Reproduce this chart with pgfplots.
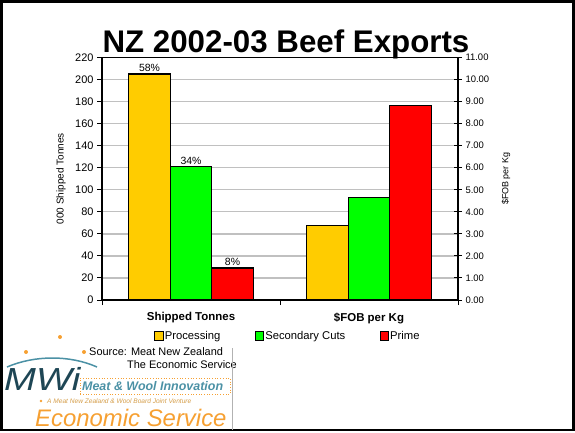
\documentclass[border=0pt]{standalone}
\usepackage{fontspec}
\setmainfont{Liberation Sans}
\usepackage{pgfplots}
\pgfplotsset{compat=1.18}
\definecolor{procC}{RGB}{255,204,0}
\definecolor{secC}{RGB}{0,255,0}
\definecolor{primeC}{RGB}{255,0,0}
\definecolor{gridC}{RGB}{192,192,192}
\definecolor{mwiTeal}{RGB}{30,70,85}
\definecolor{mwiBlue}{RGB}{75,145,165}
\definecolor{mwiOrange}{RGB}{246,160,50}
\begin{document}
\begin{tikzpicture}[x=1bp,y=1bp]
\useasboundingbox (0,0) rectangle (575,432);
\draw[line width=2.5bp] (1.3,1.8) rectangle (573.7,430.7);

\node[anchor=base, inner sep=0pt, font=\bfseries\fontsize{31.4}{34}\selectfont] at (286,380) {NZ 2002-03 Beef Exports};

\pgfplotsset{
  commonax/.style={
    at={(102bp,132bp)}, anchor=south west, scale only axis,
    width=356bp, height=242.5bp,
    xmin=-0.5, xmax=1.5,
    ybar=0pt, bar width=0.2333,
    /pgf/number format/assume math mode=true,
    axis line style={line width=1.3bp},
    every axis plot/.append style={draw=black, line width=1.2bp},
  }
}

\begin{axis}[commonax,
  ymin=0, ymax=220, ytick={0,20,...,220},
  ymajorgrids, grid style={gridC, line width=1.3bp},
  ytick pos=left, tick align=outside,
  tick style={black, line width=1bp},
  major tick length=5bp,
  yticklabel style={font=\fontsize{11}{13}\selectfont},
  xtick={-0.5,0.5,1.5}, xticklabels={,,}, xtick pos=bottom,
  extra x ticks={0,1},
  extra x tick labels={Shipped Tonnes,\$FOB per Kg},
  extra x tick style={major tick length=0pt,
    xticklabel style={font=\bfseries\fontsize{11.5}{13}\selectfont, yshift=-9bp}},
  ylabel={000 Shipped Tonnes},
  ylabel style={at={(axis description cs:-0.115,0.5)}, anchor=center,
    font=\fontsize{10}{12}\selectfont},
  nodes near coords, point meta=explicit symbolic,
  every node near coord/.append style={font=\fontsize{10.5}{12}\selectfont, inner sep=1.5bp},
  legend columns=3,
  legend image code/.code={\draw[#1, draw=black, line width=0.9bp] (0bp,-4.2bp) rectangle (8.5bp,4.2bp);},
  legend style={draw=none, at={(axis description cs:0.146,-0.1485)}, anchor=west,
    inner sep=0pt, font=\fontsize{11.3}{13}\selectfont,
    nodes={inner sep=1.2bp},
    /tikz/every even column/.append style={column sep=33bp}},
]
\addplot[fill=procC] coordinates {(0,205) [58\%]};
\addplot[fill=secC] coordinates {(0,121) [34\%]};
\addplot[fill=primeC] coordinates {(0,29) [8\%]};
\legend{Processing,Secondary Cuts,Prime}
\end{axis}

\begin{axis}[commonax,
  ymin=0, ymax=11, ytick={0,1,...,11},
  axis y line*=right, axis x line=none,
  tick align=center, major tick length=8bp,
  tick style={black, line width=1bp},
  yticklabel style={font=\fontsize{9.5}{11}\selectfont,
    /pgf/number format/.cd, fixed, fixed zerofill, precision=2},
  ylabel={\$FOB per Kg},
  ylabel style={at={(axis description cs:1.135,0.5)}, anchor=center, rotate=0,
    font=\fontsize{9}{11}\selectfont},
]
\addplot[fill=procC] coordinates {(1,3.37)};
\addplot[fill=secC] coordinates {(1,4.66)};
\addplot[fill=primeC] coordinates {(1,8.81)};
\end{axis}

% source
\node[anchor=base west, inner sep=0pt, font=\fontsize{11}{13}\selectfont] at (89,77) {Source: Meat New Zealand};
\node[anchor=base west, inner sep=0pt, font=\fontsize{11}{13}\selectfont] at (127,64) {The Economic Service};

% logo approximation
\draw[gray!60, line width=1bp] (232,84) -- (232,2);
\fill[mwiOrange] (60,95) circle (2bp);
\fill[mwiOrange] (26,80) circle (2bp);
\fill[mwiOrange] (84,80) circle (2bp);
\draw[mwiBlue, line width=1.5bp] (7,65) .. controls (35,77) and (70,77) .. (97,65);
\node[anchor=base west, inner sep=0pt, xscale=1.2, text=mwiTeal, font=\itshape\fontsize{32}{34}\selectfont] at (4,42) {MWi};
\draw[mwiOrange, dotted, line width=0.7bp] (80,38) rectangle (230,54);
\node[anchor=base west, inner sep=0pt, text=mwiBlue, font=\bfseries\itshape\fontsize{12.5}{14}\selectfont] at (82,41.5) {Meat \& Wool Innovation};
\fill[mwiOrange] (41,31) circle (1.3bp);
\node[anchor=base west, inner sep=0pt, text=mwiOrange!80!mwiBlue, font=\itshape\fontsize{6.6}{8}\selectfont] at (47,28.5) {A Meat New Zealand \& Wool Board Joint Venture};
\node[anchor=base west, inner sep=0pt, text=mwiOrange, font=\itshape\fontsize{24}{26}\selectfont] at (35,6) {Economic Service};
\end{tikzpicture}
\end{document}
